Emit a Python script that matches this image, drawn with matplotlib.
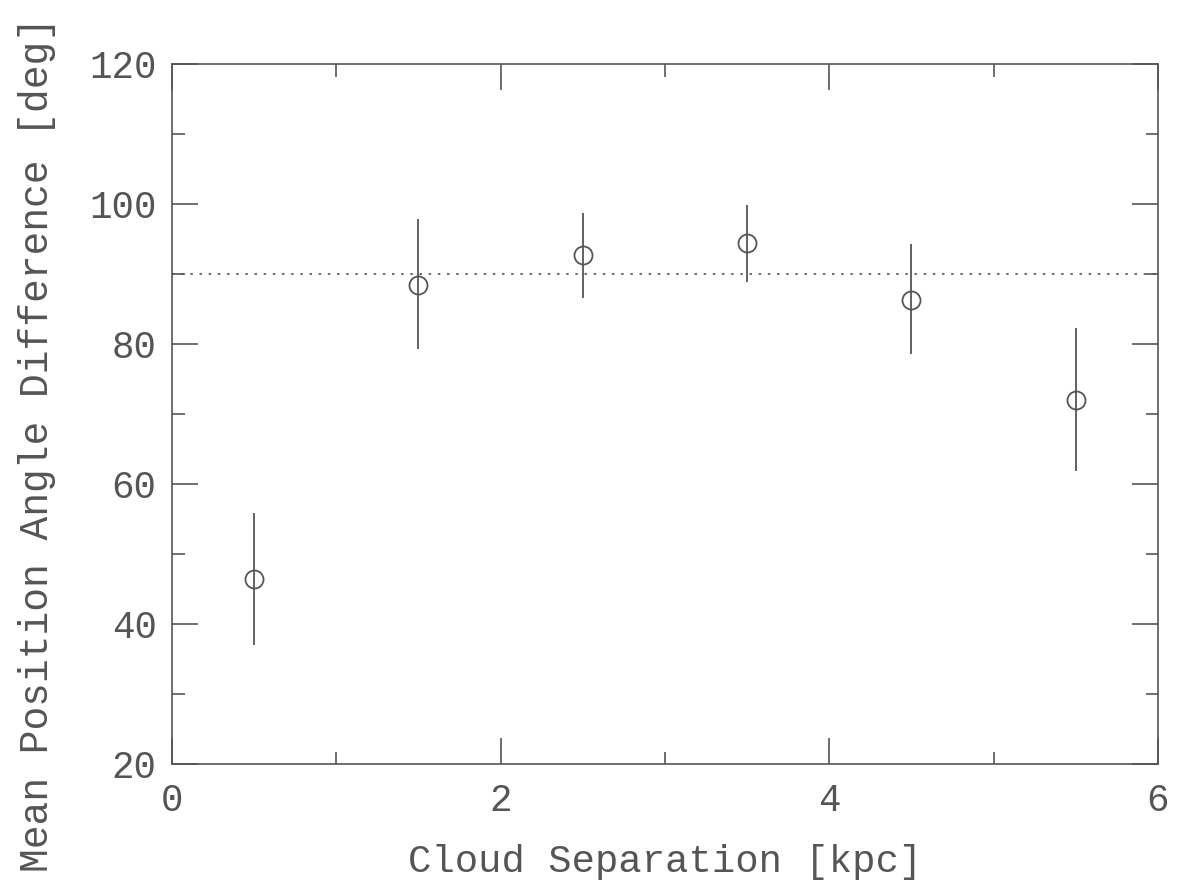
import numpy as np
import matplotlib.pyplot as plt
from matplotlib.ticker import MultipleLocator

# cloud separation bins and mean position angle difference
sep = [0.5, 1.5, 2.5, 3.5, 4.5, 5.5]
angle = [46.4, 88.5, 92.7, 94.4, 86.3, 72.0]
err_lo = [37.0, 79.3, 86.6, 88.9, 78.6, 61.9]
err_hi = [55.9, 97.9, 98.7, 99.9, 94.3, 82.3]

col = '#555555'
plt.rcParams['font.family'] = ['Liberation Mono', 'DejaVu Sans Mono']

fig = plt.figure(figsize=(11.81, 8.88), dpi=100)
ax = fig.add_axes([0.1456, 0.1396, 0.8349, 0.7883])

ax.vlines(sep, err_lo, err_hi, color=col, lw=1.3, zorder=3)
ax.plot(sep, angle, 'o', ms=13, mfc='none', mec=col, mew=1.3, zorder=4)
ax.axhline(90, color=col, lw=1.2, ls=(0, (1.5, 4)))

ax.set_xlim(0, 6)
ax.set_ylim(20, 120)
ax.xaxis.set_major_locator(MultipleLocator(2))
ax.xaxis.set_minor_locator(MultipleLocator(1))
ax.yaxis.set_major_locator(MultipleLocator(20))
ax.yaxis.set_minor_locator(MultipleLocator(10))
ax.tick_params(which='both', direction='in', top=True, right=True, colors=col,
               width=1.2, labelsize=27, labelcolor=col)
ax.tick_params(which='major', length=19)
ax.tick_params(axis='y', which='major', pad=11)
ax.tick_params(axis='x', which='major', pad=14)
ax.tick_params(which='minor', length=9)
for s in ax.spines.values():
    s.set_color(col)
    s.set_linewidth(1.2)

ax.set_xlabel('Cloud Separation [kpc]', fontsize=28, color=col, labelpad=18)
ax.set_ylabel('Mean Position Angle Difference [deg]', fontsize=28.5, color=col)
ax.yaxis.set_label_coords(-0.118, 0.457)

plt.savefig('out.png')
